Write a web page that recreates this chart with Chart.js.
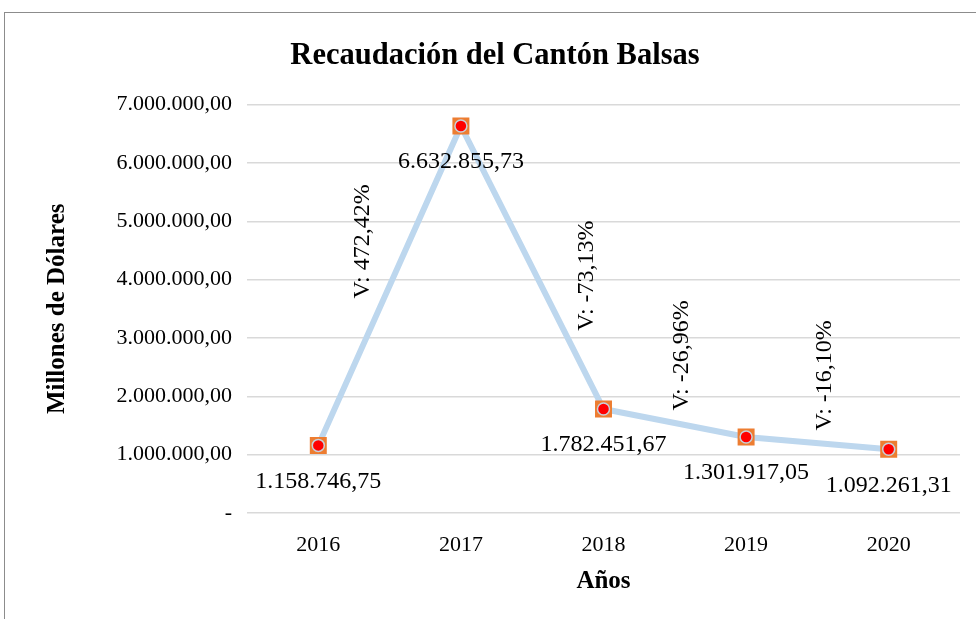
<!DOCTYPE html>
<html>
<head>
<meta charset="utf-8">
<script src="https://cdn.jsdelivr.net/npm/chart.js@4"></script>
<style>
  html, body { margin: 0; padding: 0; background: #fff; overflow: hidden; }
  #marco { position: absolute; left: 4px; top: 12px; width: 1000px; height: 700px; border: 1px solid #8c8c8c; }
  #wrap { position: absolute; left: 0; top: 0; width: 976px; height: 619px; }
</style>
</head>
<body>
<div id="marco"></div>
<div id="wrap"><canvas id="myChart" width="976" height="619"></canvas></div>
<script>
// Datos del gráfico
const anios = ['2016', '2017', '2018', '2019', '2020'];
const recaudacion = [1158746.75, 6632855.73, 1782451.67, 1301917.05, 1092261.31];
const variaciones = ['V: 472,42%', 'V: -73,13%', 'V: -26,96%', 'V: -16,10%'];
const ticksY = [0, 1000000, 2000000, 3000000, 4000000, 5000000, 6000000, 7000000];

const fuente = "'Liberation Serif', 'Times New Roman', serif";

// formato 1.234.567,89
const formato = (v) => {
    let partes = v.toFixed(2).split('.');
    partes[0] = partes[0].replace(/\B(?=(\d{3})+(?!\d))/g, '.');
    return partes[0] + ',' + partes[1];
};

// etiquetas de valor debajo de cada punto y textos de variación girados
const etiquetas = {
    id: 'etiquetas',
    afterDatasetsDraw(chart, args, opts) {
        const ctx = chart.ctx;
        const meta = chart.getDatasetMeta(1);
        const x = chart.scales.x, y = chart.scales.y;
        ctx.save();
        ctx.fillStyle = '#000';
        ctx.font = '24px ' + fuente;
        ctx.textAlign = 'center';
        ctx.textBaseline = 'middle';
        meta.data.forEach((p, i) => {
            ctx.fillText(formato(recaudacion[i]), p.x, p.y + 36);
        });
        // posiciones de los textos de variación (índice fraccional, valor)
        opts.pos.forEach((q, i) => {
            ctx.save();
            ctx.translate(x.getPixelForValue(q[0]), y.getPixelForValue(q[1]));
            ctx.rotate(-Math.PI / 2);
            ctx.fillText(variaciones[i], 0, 0);
            ctx.restore();
        });
        ctx.restore();
    }
};

const ctx = document.getElementById('myChart').getContext('2d');
new Chart(ctx, {
    type: 'line',
    data: {
        labels: anios,
        datasets: [
            {
                label: 'puntos',
                data: recaudacion,
                showLine: false,
                pointStyle: 'circle',
                pointRadius: 6,
                pointBorderWidth: 1.5,
                pointBackgroundColor: '#ff0000',
                pointBorderColor: '#c9cfd8'
            },
            {
                label: 'Recaudación',
                data: recaudacion,
                borderColor: '#bdd7ee',
                borderWidth: 6,
                tension: 0,
                pointStyle: 'rect',
                pointRadius: 12,
                pointBorderWidth: 0,
                pointBackgroundColor: '#ed7d31'
            }
        ]
    },
    options: {
        responsive: false,
        animation: false,
        layout: { padding: { left: 30, right: 16, top: 0, bottom: 10 } },
        plugins: {
            legend: { display: false },
            tooltip: { enabled: false },
            title: {
                display: true,
                text: 'Recaudación del Cantón Balsas',
                color: '#000',
                font: { family: fuente, size: 30.5, weight: 'bold' },
                padding: { top: 38, bottom: 30 }
            },
            etiquetas: {
                pos: [[0.31, 4655000], [1.88, 4070000], [2.55, 2700000], [3.55, 2360000]]
            }
        },
        scales: {
            x: {
                offset: true,
                grid: { display: false, drawTicks: false },
                border: { display: false },
                ticks: { color: '#000', padding: 19, font: { family: fuente, size: 22 } },
                title: {
                    display: true, text: 'Años', color: '#000', padding: 12,
                    font: { family: fuente, size: 25, weight: 'bold' }
                },
                afterFit(s) { s.height = 96; }
            },
            y: {
                min: 0,
                max: 7000000,
                afterBuildTicks(s) { s.ticks = ticksY.map(v => ({ value: v })); },
                grid: { color: '#d9d9d9', lineWidth: 1.5, drawTicks: false },
                border: { display: false },
                ticks: {
                    color: '#000', padding: 15,
                    font: { family: fuente, size: 22 },
                    callback: (v) => v === 0 ? '-' : formato(v)
                },
                title: {
                    display: true, text: 'Millones de Dólares', color: '#000', padding: 13,
                    font: { family: fuente, size: 25, weight: 'bold' }
                },
                afterFit(s) { s.width = 217; }
            }
        }
    },
    plugins: [etiquetas]
});
</script>
</body>
</html>
